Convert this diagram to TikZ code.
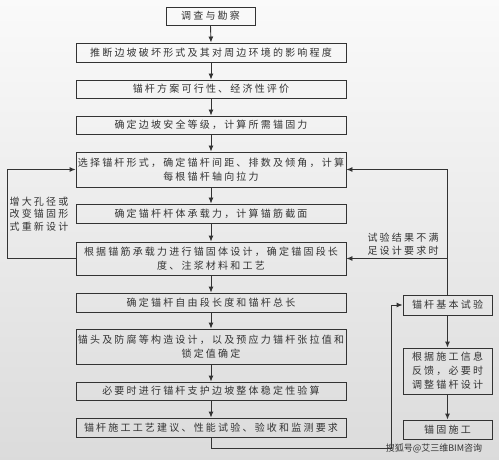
\documentclass[tikz,border=0pt]{standalone}
\usepackage{fontspec}
\setmainfont{Noto Sans CJK SC}[LetterSpace=22]
\usetikzlibrary{arrows.meta,calc}
\definecolor{ink}{HTML}{333333}
\tikzset{
  box/.style={draw=ink,line width=0.9pt,text=ink,minimum height=#1,inner sep=0pt,align=center,font=\fontsize{10}{13.5}\selectfont},
  mainbox/.style={box=#1,minimum width=270},
  sidebox/.style={box=#1,minimum width=89},
  arr/.style={draw=ink,line width=0.9pt,-{Latex[length=6pt,width=5pt]}},
  lbl/.style={text=ink,align=center,inner sep=0pt,font=\fontsize{10}{12.5}\selectfont},
}
\begin{document}
\begin{tikzpicture}[x=1pt,y=-1pt]
\shade[top color=white!98!black,bottom color=white!86!black] (0,0) rectangle (499,460);
\useasboundingbox (0,0) rectangle (499,460);
\node[box=18,minimum width=89] (b1) at (210.5,16) {调查与勘察};
\node[mainbox=19] (b2) at (211,52.5) {推断边坡破坏形式及其对周边环境的影响程度};
\node[mainbox=18] (b3) at (211,89) {锚杆方案可行性、经济性评价};
\node[mainbox=18] (b4) at (211,125) {确定边坡安全等级，计算所需锚固力};
\node[mainbox=35] (b5) at (211,169.5) {选择锚杆形式，确定锚杆间距、排数及倾角，计算\\每根锚杆轴向拉力};
\node[mainbox=19] (b6) at (211,213.5) {确定锚杆杆体承载力，计算锚筋截面};
\node[mainbox=33] (b7) at (211,258.5) {根据锚筋承载力进行锚固体设计，确定锚固段长\\度、注浆材料和工艺};
\node[mainbox=19] (b8) at (211,302.5) {确定锚杆自由段长度和锚杆总长};
\node[mainbox=35] (b9) at (211,346.5) {锚头及防腐等构造设计，以及预应力锚杆张拉值和\\锁定值确定};
\node[mainbox=18] (b10) at (211,391) {必要时进行锚杆支护边坡整体稳定性验算};
\node[mainbox=19] (b11) at (211,427.5) {锚杆施工工艺建议、性能试验、验收和监测要求};
\node[sidebox=20] (r1) at (447.5,305) {锚杆基本试验};
\node[sidebox=46,font=\fontsize{10}{14}\selectfont] (r2) at (447.5,371) {根据施工信息\\反馈，必要时\\调整锚杆设计};
\node[sidebox=19] (r3) at (447.5,429.5) {锚固施工};
\foreach \a/\b in {b1/b2,b2/b3,b3/b4,b4/b5,b5/b6,b6/b7,b7/b8,b8/b9,b9/b10,b10/b11,r1/r2,r2/r3}
  \draw[arr] (\a.south) -- (\b.north);
\coordinate (lx) at (7,0);
\draw[arr] (b7.west) -- (lx |- b7.west) |- (b5.west);
\draw[arr] (r1.north) |- (b5.east);
\draw[arr] (r1.north |- b7.east) -- (b7.east);
\coordinate (c1) at (391,448);
\draw[arr] (b11.south) |- (c1) |- (r1.west);
\node[lbl] (tl) at (39,214) {增大孔径或\\改变锚固形\\式重新设计};
\node[lbl] (tr) at (403,244) {试验结果不满\\足设计要求时};
\node[text=ink,inner sep=0pt,font=\fontsize{9}{10}\selectfont\addfontfeature{LetterSpace=0}] (wm) at (434,448) {搜狐号@艾三维BIM咨询};
\end{tikzpicture}
\end{document}
